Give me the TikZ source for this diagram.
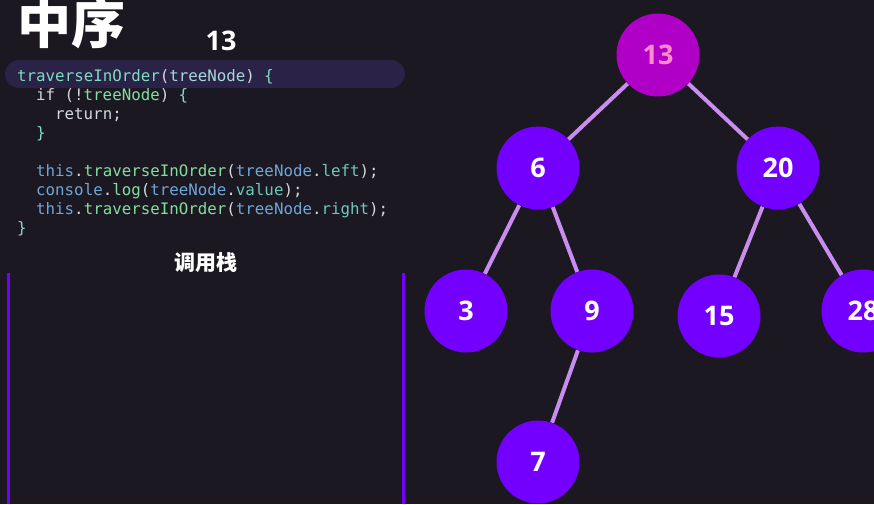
\documentclass[tikz,border=0pt]{standalone}
\usepackage{fontspec}
\setmainfont{Open Sans}
\setmonofont{DejaVu Sans Mono}
\newfontfamily\cjk{Noto Sans CJK SC}
\definecolor{bg}{HTML}{1B1822}
\definecolor{pill}{HTML}{2A2247}
\definecolor{violet}{HTML}{7300FF}
\definecolor{rootc}{HTML}{B000C8}
\definecolor{roott}{HTML}{FF8CC8}
\definecolor{edgec}{HTML}{C98DF0}
\definecolor{cT}{HTML}{7FDCC0}
\definecolor{cG}{HTML}{84DE9E}
\definecolor{cB}{HTML}{6FA6D8}
\definecolor{cW}{HTML}{D4D9DE}
\definecolor{cP}{HTML}{6CC8BC}
\definecolor{cA}{HTML}{A9D6DA}
\pgfdeclarelayer{bottom}
\pgfdeclarelayer{edges}
\pgfsetlayers{bottom,edges,main}
\begin{document}
\begin{tikzpicture}[x=1pt,y=-1pt,
  tnode/.style={circle,fill=violet,minimum size=83pt,inner sep=0pt,text=white,font=\fontsize{27}{32}\selectfont\bfseries},
  rootnode/.style={tnode,fill=rootc,text=roott},
  tedge/.style={draw=edgec,line width=4pt},
  codeline/.style={anchor=base west,inner sep=0pt,font=\fontsize{15.8}{19}\ttfamily},
  stackline/.style={draw=violet,line width=3.5pt}]
\clip (0,0) rectangle (874,504);
\begin{pgfonlayer}{bottom}
\fill[bg] (0,0) rectangle (874,504);
\fill[pill,rounded corners=14pt] (5,60) rectangle (405,88);
\end{pgfonlayer}
% title
\node[text=white,font=\cjk\bfseries\fontsize{54}{60}\selectfont,inner sep=0pt] (title) at (71,23) {中序};
\node[text=white,font=\fontsize{27}{30}\selectfont\bfseries,inner sep=0pt] (cur) at (221,41) {13};
% code
\node[codeline] (l1) at (17,81) {\textcolor{cT}{traverseInOrder}\textcolor{cW}{(}\textcolor{cA}{treeNode}\textcolor{cW}{)}};
\node[codeline] (l1b) at (264,81) {\textcolor{cT}{\{}};
\node[codeline] (l2) at (36,100) {\textcolor{cW}{if}};
\node[codeline] (l2b) at (64.5,100) {\textcolor{cW}{(!}\textcolor{cG}{treeNode}\textcolor{cW}{)}};
\node[codeline] (l2c) at (178.5,100) {\textcolor{cT}{\{}};
\node[codeline] (l3) at (55,119) {\textcolor{cW}{return;}};
\node[codeline] (l4) at (36,138) {\textcolor{cT}{\}}};
\node[codeline] (l6) at (36,176) {\textcolor{cB}{this}\textcolor{cW}{.}\textcolor{cG}{traverseInOrder}\textcolor{cW}{(}\textcolor{cB}{treeNode}\textcolor{cW}{.}\textcolor{cP}{left}\textcolor{cW}{);}};
\node[codeline] (l7) at (36,195) {\textcolor{cB}{console}\textcolor{cW}{.}\textcolor{cG}{log}\textcolor{cW}{(}\textcolor{cB}{treeNode}\textcolor{cW}{.}\textcolor{cP}{value}\textcolor{cW}{);}};
\node[codeline] (l8) at (36,214) {\textcolor{cB}{this}\textcolor{cW}{.}\textcolor{cG}{traverseInOrder}\textcolor{cW}{(}\textcolor{cB}{treeNode}\textcolor{cW}{.}\textcolor{cP}{right}\textcolor{cW}{);}};
\node[codeline] (l9) at (17,233) {\textcolor{cT}{\}}};
% call stack
\node[text=white,font=\cjk\bfseries\fontsize{21}{24}\selectfont,inner sep=0pt] (stack) at (206,263) {调用栈};
\coordinate (sl1) at (8.5,273);
\coordinate (sl2) at (8.5,504);
\coordinate (sr1) at (403.5,273);
\coordinate (sr2) at (403.5,504);
\draw[stackline] (sl1) -- (sl2);
\draw[stackline] (sr1) -- (sr2);
% tree
\node[rootnode] (n13) at (658,55) {13};
\node[tnode] (n6) at (538,168) {6};
\node[tnode] (n20) at (778,168) {20};
\node[tnode] (n3) at (466,311) {3};
\node[tnode] (n9) at (592,311) {9};
\node[tnode] (n15) at (719,316) {15};
\node[tnode] (n28) at (863,311) {28};
\node[tnode] (n7) at (538,462) {7};
\begin{pgfonlayer}{edges}
\draw[tedge] (n13) -- (n6);
\draw[tedge] (n13) -- (n20);
\draw[tedge] (n6) -- (n3);
\draw[tedge] (n6) -- (n9);
\draw[tedge] (n20) -- (n15);
\draw[tedge] (n20) -- (n28);
\draw[tedge] (n9) -- (n7);
\end{pgfonlayer}
\end{tikzpicture}
\end{document}
